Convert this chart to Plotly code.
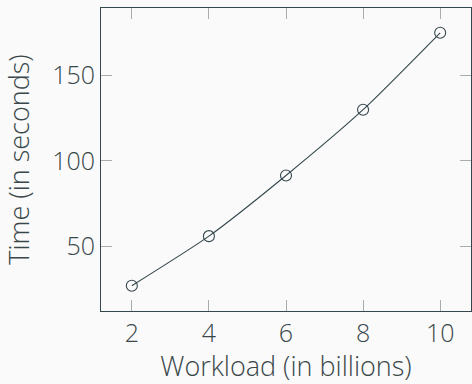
import plotly.graph_objects as go

# Runtime measurements per workload size
workload = [2, 4, 6, 8, 10]
time_sec = [27, 56, 91.5, 130, 175]
x_ticks = [2, 4, 6, 8, 10]
y_ticks = [50, 100, 150]

ink = "#34474c"
text_col = "#394749"
tick_col = "#a8adad"
font_family = "Open Sans, Lato, sans-serif"

fig = go.Figure(
    go.Scatter(
        x=workload,
        y=time_sec,
        mode="lines+markers",
        line=dict(color=ink, width=1.1, shape="spline", smoothing=0.6),
        marker=dict(symbol="circle-open", size=11, color=ink, line=dict(width=1.1, color=ink)),
        showlegend=False,
    )
)

axis_common = dict(
    showgrid=False,
    zeroline=False,
    showline=True,
    linecolor=ink,
    linewidth=1,
    mirror="ticks",
    ticks="inside",
    ticklen=11,
    tickwidth=1,
    tickcolor=tick_col,
    tickfont=dict(family=font_family, size=25, color=text_col, weight=300),
    title_font=dict(family=font_family, size=27, color=text_col, weight=300),
)

fig.update_xaxes(
    range=[1.2, 10.8],
    tickvals=x_ticks,
    title_text="Workload (in billions)",
    title_standoff=14,
    **axis_common,
)
fig.update_yaxes(
    range=[12.2, 189.5],
    tickvals=y_ticks,
    title_text="Time (in seconds)",
    title_standoff=14,
    **axis_common,
)

fig.update_layout(
    width=472,
    height=384,
    margin=dict(l=101, r=1, t=8, b=73),
    paper_bgcolor="#fafafa",
    plot_bgcolor="#fafafa",
    font=dict(family=font_family, color=text_col),
)

fig.write_html("out.html")
